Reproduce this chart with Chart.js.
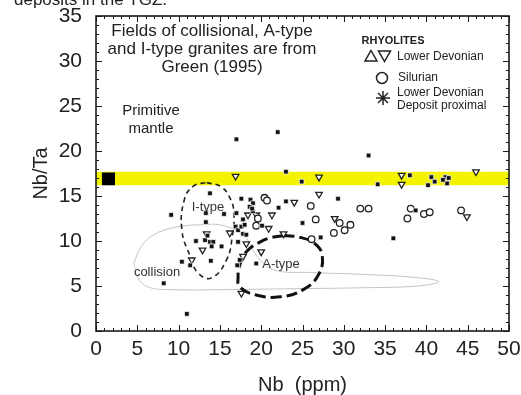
<!DOCTYPE html>
<html>
<head>
<meta charset="utf-8">
<script src="https://cdn.jsdelivr.net/npm/chart.js@4.4.1/dist/chart.umd.min.js"></script>
<style>
  html, body { margin: 0; padding: 0; background: #fff; }
  #wrap { width: 521px; height: 395px; }
</style>
</head>
<body>
<div id="wrap"><canvas id="nbChart" width="521" height="395"></canvas></div>
<script>
const FONT = '"Liberation Sans", Arial, sans-serif';

// Lower Devonian, deposit proximal (filled squares)
const proximalNb = [9.1, 13.8, 13.3, 13.3, 15.5, 12.1, 13.2, 13.5, 13.8, 14.2, 15.2, 14.0, 13.9, 10.4, 11.4, 8.2, 11.0,
  17.0, 17.6, 18.7, 19.0, 18.6, 19.0, 16.9, 17.2, 17.6, 18.0, 17.8, 18.2, 17.2, 17.4, 17.1, 19.4, 17.0, 17.8,
  22.0, 23.0, 24.9, 23.0, 22.1, 18.9, 20.1, 25.0, 27.2, 29.3, 33.0, 34.1, 38.0, 40.6, 41.0, 40.2, 42.3, 42.7, 42.5, 42.0,
  38.7, 36.0];
const proximalRatio = [12.9, 15.3, 13.1, 12.1, 13.0, 10.0, 10.1, 10.6, 9.9, 9.9, 9.4, 9.4, 7.8, 7.7, 7.3, 5.3, 1.9,
  21.3, 14.7, 14.6, 14.2, 13.8, 13.3, 11.6, 11.2, 11.6, 11.8, 10.8, 10.7, 9.9, 7.9, 7.3, 7.5, 13.1, 12.4,
  22.1, 17.7, 16.6, 14.4, 13.7, 13.6, 11.7, 12.0, 10.4, 14.7, 19.5, 16.3, 17.3, 17.1, 16.6, 16.2, 17.1, 17.0, 16.4, 16.8,
  13.4, 10.3];

// Silurian (open circles)
const silurianNb = [20.4, 20.7, 26.0, 32.0, 33.0, 19.6, 26.6, 29.5, 30.8, 30.1, 28.8, 19.4, 26.1, 38.1, 37.7, 39.7, 40.4, 44.2];
const silurianRatio = [14.8, 14.5, 13.9, 13.6, 13.6, 12.5, 12.4, 12.0, 11.8, 11.2, 10.9, 11.7, 10.2, 13.6, 12.5, 13.0, 13.2, 13.4];

// Lower Devonian (open triangles)
const devonianNb = [16.9, 27.0, 37.0, 37.0, 46.0, 24.0, 27.0, 21.3, 28.9, 20.9, 22.7, 18.4, 19.4, 18.2, 13.4, 12.9, 11.6,
  20.0, 17.8, 16.2, 44.9, 17.6];
const devonianRatio = [17.2, 17.1, 17.3, 16.3, 17.7, 14.3, 15.2, 12.9, 12.5, 11.4, 10.8, 12.9, 12.9, 9.7, 10.8, 9.0, 7.9,
  8.8, 8.3, 10.9, 12.7, 4.2];

// granite fields (Green 1995)
const iTypeNb = [13.4, 15.2, 16.3, 16.7, 16.5, 15.8, 14.0, 12.4, 11.4, 10.4, 10.7, 11.8, 13.4];
const iTypeRatio = [16.5, 16.0, 14.6, 13.1, 10.5, 7.9, 5.9, 6.4, 8.3, 11.2, 14.6, 16.1, 16.5];
const aTypeNb = [22.7, 24.7, 26.5, 27.4, 26.9, 25.1, 22.3, 19.4, 17.4, 17.2, 17.4, 18.2, 19.9, 21.3, 22.7];
const aTypeRatio = [10.6, 10.4, 9.7, 8.3, 6.2, 4.6, 3.8, 4.0, 4.9, 6.0, 7.3, 8.8, 9.9, 10.4, 10.6];
const collisionNb = [4.6, 5.5, 7.0, 9.5, 12.5, 15.5, 18.0, 19.5, 21.5, 26, 32, 38, 41.5, 39, 32, 24, 16, 9, 6.3, 5.0, 4.6];
const collisionRatio = [7.6, 9.4, 10.7, 11.5, 11.8, 11.7, 10.5, 8.3, 6.8, 6.5, 6.3, 6.0, 5.5, 5.0, 4.8, 4.7, 4.6, 4.6, 4.9, 6.0, 7.6];

// primitive mantle Nb/Ta band and marker box
const mantleBand = [16.2, 17.7];
const mantleBoxNb = [0.7, 2.3];
const mantleBoxRatio = [16.2, 17.6];

const xTicks = [0, 5, 10, 15, 20, 25, 30, 35, 40, 45, 50];
const yTicks = [0, 5, 10, 15, 20, 25, 30, 35];

function pts(xs, ys) { return xs.map((v, i) => ({x: v, y: ys[i]})); }

const frameTicks = {
  id: 'frameTicks',
  afterDraw(chart) {
    const {ctx, chartArea: a, scales: {x, y}} = chart;
    ctx.save();
    ctx.strokeStyle = '#1a1a1a';
    ctx.lineWidth = 1;
    ctx.beginPath();
    for (let v = 0; v <= 50; v++) {
      const px = Math.round(x.getPixelForValue(v)) + 0.5;
      const len = v % 5 === 0 ? 6 : 3;
      ctx.moveTo(px, a.bottom); ctx.lineTo(px, a.bottom - len);
      ctx.moveTo(px, a.top); ctx.lineTo(px, a.top + len);
    }
    for (let v = 0; v <= 35; v++) {
      const py = Math.round(y.getPixelForValue(v)) + 0.5;
      const len = v % 5 === 0 ? 6 : 3;
      ctx.moveTo(a.left, py); ctx.lineTo(a.left + len, py);
      ctx.moveTo(a.right, py); ctx.lineTo(a.right - len, py);
    }
    ctx.stroke();
    ctx.lineWidth = 1.6;
    ctx.strokeRect(a.left, a.top, a.right - a.left, a.bottom - a.top);
    ctx.restore();
  }
};

const notes = {
  id: 'notes',
  afterDraw(chart) {
    const ctx = chart.ctx;
    ctx.save();
    ctx.fillStyle = '#222';

    // caption cut off at top of the figure
    ctx.textAlign = 'left';
    ctx.textBaseline = 'alphabetic';
    ctx.font = '17px ' + FONT;
    ctx.fillText('deposits in the TGZ.', 14, 5);
    ctx.textBaseline = 'middle';

    ctx.textAlign = 'center';
    ctx.font = '17px ' + FONT;
    ctx.fillText('Fields of collisional, A-type', 212, 31);
    ctx.fillText('and I-type granites are from', 212, 49);
    ctx.fillText('Green (1995)', 212, 67);

    ctx.font = '15px ' + FONT;
    ctx.fillText('Primitive', 151, 111);
    ctx.fillText('mantle', 151, 129);

    ctx.font = '13px ' + FONT;
    ctx.fillStyle = '#333';
    ctx.fillText('I-type', 208, 207);
    ctx.fillText('A-type', 281, 264);
    ctx.fillText('collision', 157, 272);

    // legend
    ctx.fillStyle = '#222';
    ctx.font = 'bold 11px ' + FONT;
    ctx.fillText('RHYOLITES', 393, 41);
    ctx.textAlign = 'left';
    ctx.font = '12px ' + FONT;
    ctx.fillText('Lower Devonian', 397, 57);
    ctx.fillText('Silurian', 398, 78);
    ctx.fillText('Lower Devonian', 397, 93);
    ctx.fillText('Deposit proximal', 397, 106);

    ctx.strokeStyle = '#222';
    ctx.lineWidth = 1.5;
    ctx.beginPath();
    ctx.moveTo(371, 50.5); ctx.lineTo(377, 61); ctx.lineTo(365, 61); ctx.closePath();
    ctx.moveTo(378.5, 51); ctx.lineTo(390.5, 51); ctx.lineTo(384.5, 61.5); ctx.closePath();
    ctx.stroke();
    ctx.beginPath();
    ctx.arc(382, 78, 5.5, 0, Math.PI * 2);
    ctx.stroke();
    ctx.beginPath();
    for (let k = 0; k < 4; k++) {
      const ang = k * Math.PI / 4;
      ctx.moveTo(383 - 7 * Math.cos(ang), 98 - 7 * Math.sin(ang));
      ctx.lineTo(383 + 7 * Math.cos(ang), 98 + 7 * Math.sin(ang));
    }
    ctx.stroke();
    ctx.restore();
  }
};

new Chart(document.getElementById('nbChart'), {
  type: 'scatter',
  data: {
    datasets: [
      {
        label: 'Lower Devonian Deposit proximal',
        data: pts(proximalNb, proximalRatio),
        pointStyle: 'rect', pointRadius: 3.3,
        backgroundColor: '#111', borderColor: 'rgba(255,255,255,0.9)', borderWidth: 0.8,
        order: 0
      },
      {
        label: 'Silurian',
        data: pts(silurianNb, silurianRatio),
        pointStyle: 'circle', pointRadius: 3.3,
        backgroundColor: '#fff', borderColor: '#222', borderWidth: 1.3,
        order: 0
      },
      {
        label: 'Lower Devonian',
        data: pts(devonianNb, devonianRatio),
        pointStyle: 'triangle', rotation: 180, pointRadius: 3.8,
        backgroundColor: '#fff', borderColor: '#222', borderWidth: 1.3,
        order: 0
      },
      {
        label: 'I-type',
        data: pts(iTypeNb, iTypeRatio),
        showLine: true, tension: 0.45, pointRadius: 0,
        borderColor: '#222', borderWidth: 1.6, borderDash: [5, 4],
        order: 1
      },
      {
        label: 'A-type',
        data: pts(aTypeNb, aTypeRatio),
        showLine: true, tension: 0.45, pointRadius: 0,
        borderColor: '#111', borderWidth: 3, borderDash: [11, 5],
        order: 1
      },
      {
        label: 'collision',
        data: pts(collisionNb, collisionRatio),
        showLine: true, tension: 0.4, pointRadius: 0,
        borderColor: '#c4c4c4', borderWidth: 1,
        order: 2
      },
      {
        type: 'line',
        label: 'mantle box top',
        data: pts(mantleBoxNb, [mantleBoxRatio[1], mantleBoxRatio[1]]),
        pointRadius: 0, borderWidth: 0, borderColor: '#000',
        backgroundColor: '#000', fill: '+1',
        order: 3
      },
      {
        type: 'line',
        label: 'mantle box bottom',
        data: pts(mantleBoxNb, [mantleBoxRatio[0], mantleBoxRatio[0]]),
        pointRadius: 0, borderWidth: 0, fill: false,
        order: 3
      },
      {
        type: 'line',
        label: 'band top',
        data: pts([0, 50], [mantleBand[1], mantleBand[1]]),
        pointRadius: 0, borderWidth: 0,
        backgroundColor: '#f4f400', fill: '+1',
        order: 4
      },
      {
        type: 'line',
        label: 'band bottom',
        data: pts([0, 50], [mantleBand[0], mantleBand[0]]),
        pointRadius: 0, borderWidth: 0, fill: false,
        order: 4
      }
    ]
  },
  options: {
    responsive: false,
    animation: false,
    devicePixelRatio: 1,
    layout: { padding: { top: 16, right: 12, left: 0, bottom: 0 } },
    plugins: { legend: { display: false }, tooltip: { enabled: false } },
    scales: {
      x: {
        type: 'linear', min: 0, max: 50,
        afterFit(scale) { scale.height = 64; scale.paddingLeft = 0; scale.paddingRight = 0; },
        afterBuildTicks(scale) { scale.ticks = xTicks.map(v => ({value: v})); },
        grid: { display: false, drawTicks: false },
        border: { display: false },
        ticks: { color: '#222', padding: 6, font: { family: FONT, size: 21 } },
        title: { display: true, text: 'Nb  (ppm)', color: '#222', padding: { top: 0, bottom: -2 },
                 font: { family: FONT, size: 20 } }
      },
      y: {
        type: 'linear', min: 0, max: 35,
        afterFit(scale) { scale.width = 96; scale.paddingTop = 0; scale.paddingBottom = 0; },
        afterBuildTicks(scale) { scale.ticks = yTicks.map(v => ({value: v})); },
        grid: { display: false, drawTicks: false },
        border: { display: false },
        ticks: { color: '#222', padding: 14, font: { family: FONT, size: 21 } },
        title: { display: true, text: 'Nb/Ta', color: '#222', padding: { top: 29, bottom: 0 },
                 font: { family: FONT, size: 20 } }
      }
    }
  },
  plugins: [frameTicks, notes]
});
</script>
</body>
</html>
